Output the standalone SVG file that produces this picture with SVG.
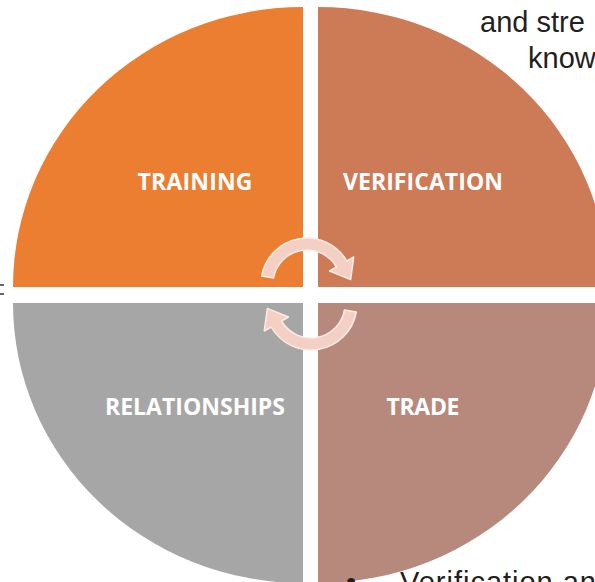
<svg xmlns="http://www.w3.org/2000/svg" width="595" height="582" viewBox="0 0 595 582">
<style>
.lbl{font-family:"Open Sans","DejaVu Sans",sans-serif;font-weight:700;font-size:23px;fill:#FFFFFF;text-anchor:middle}
.body{font-family:"Liberation Sans",Arial,sans-serif;font-size:29px;fill:#231F20}
.arrow{fill:#F3D0C3;stroke:#FBEBE4;stroke-width:1.5;stroke-linejoin:round}
</style>
<defs>
<path id="circArrow" d="M261.7,276 A46,46 0 0 1 346.84,261 L353.77,257 L350.64,279.6 L329.52,271 L336.44,267 A34,34 0 0 0 273.52,278.1 Z"/>
</defs>
<rect width="595" height="582" fill="#FFFFFF"/>
<g id="training">
<path d="M303,287 L303,7 A290,280 0 0 0 13,287 Z" fill="#EB7E30"/>
<text class="lbl" x="195" y="190" textLength="115" lengthAdjust="spacing">TRAINING</text>
</g>
<g id="verification">
<path d="M318,287 L318,7 A290,280 0 0 1 608,287 Z" fill="#CD7A57"/>
<text class="lbl" x="423" y="190" textLength="160" lengthAdjust="spacing">VERIFICATION</text>
</g>
<g id="relationships">
<path d="M303,303 L13,303 A290,280 0 0 0 303,583 Z" fill="#A6A6A6"/>
<text class="lbl" x="195" y="415" textLength="180" lengthAdjust="spacing">RELATIONSHIPS</text>
</g>
<g id="trade">
<path d="M318,303 L608,303 A290,280 0 0 1 318,583 Z" fill="#B7897D"/>
<text class="lbl" x="423" y="415" textLength="73" lengthAdjust="spacing">TRADE</text>
</g>
<g id="connectors">
<use href="#circArrow" class="arrow"/>
<use href="#circArrow" class="arrow" transform="rotate(180 309 294)"/>
</g>
<g id="fragments">
<text class="body" x="480" y="32">and stre</text>
<text class="body" x="528" y="68">know</text>
<text class="body" x="400" y="592" textLength="196" lengthAdjust="spacing">Verification an</text>
<text class="body" x="346" y="592">•</text>
<line x1="0" y1="285" x2="4" y2="285" stroke="#333333" stroke-width="1.5"/>
<line x1="0" y1="294" x2="4" y2="294" stroke="#333333" stroke-width="1.5"/>
</g>
</svg>
